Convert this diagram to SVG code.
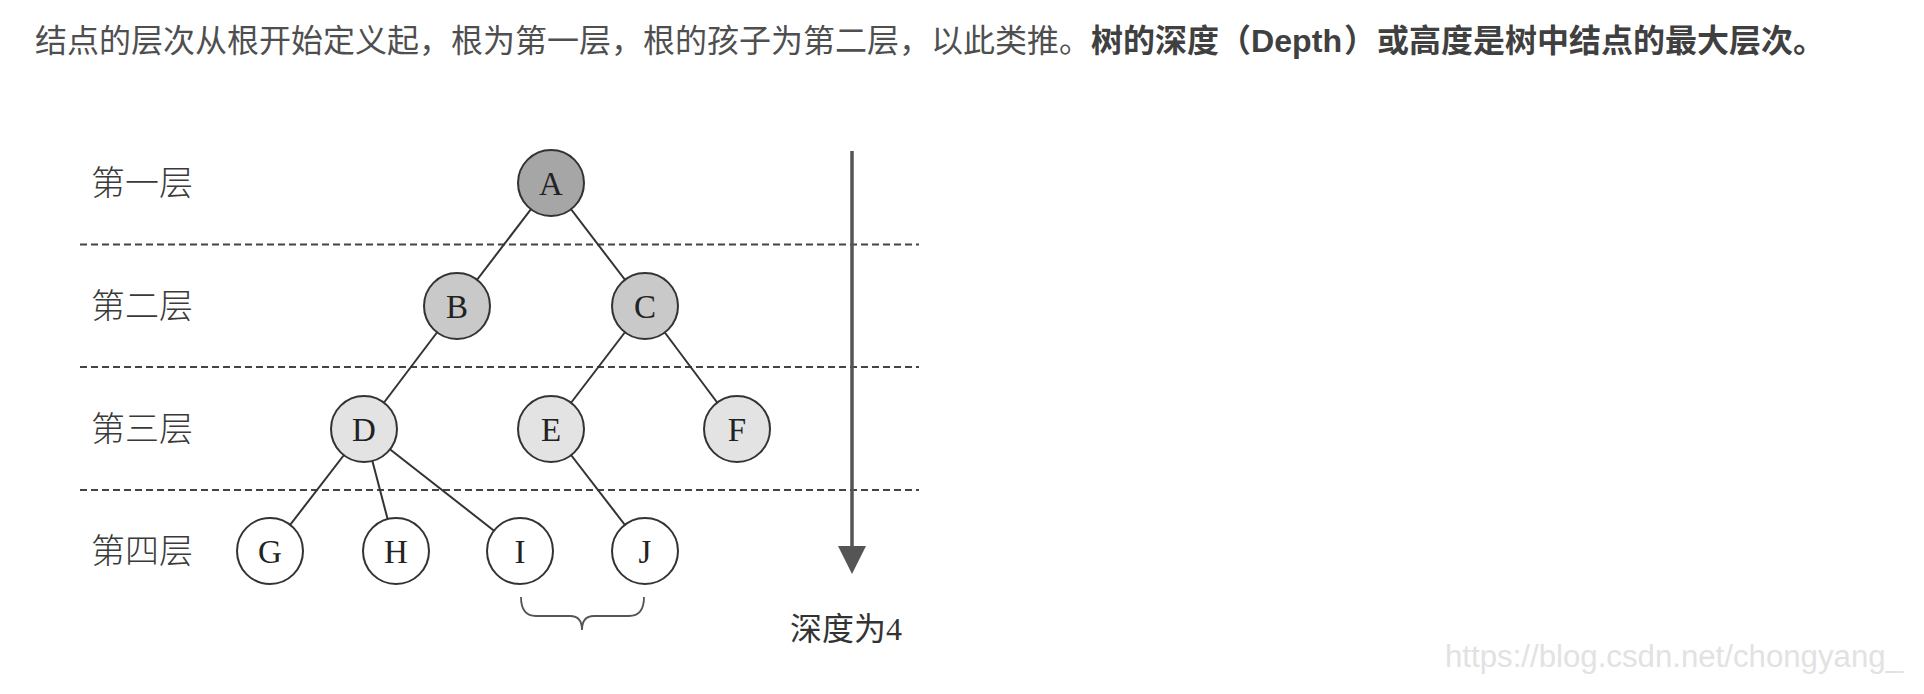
<svg xmlns="http://www.w3.org/2000/svg" width="1924" height="694" viewBox="0 0 1924 694">
<style>
.title{font-family:"Noto Sans CJK SC","Liberation Sans",sans-serif;font-size:32px;fill:#4f4f4f}
.bold{font-weight:bold;fill:#404040}
.lat{font-family:"Liberation Sans",sans-serif}
.lvl{font-family:"Noto Sans CJK SC",sans-serif;font-size:34px;font-weight:300;fill:#3a3a3a}
.node circle{stroke:#333;stroke-width:2}
.node text{font-family:"Liberation Serif",serif;font-size:33px;fill:#222;text-anchor:middle}
.edge{stroke:#333;stroke-width:2;fill:none}
.dash{stroke:#444;stroke-width:1.8;stroke-dasharray:7 4;fill:none}
.c1{fill:#a6a6a6}.c2{fill:#c9c9c9}.c3{fill:#e3e3e3}.c4{fill:#ffffff}
.dep{font-family:"Liberation Serif","Noto Sans CJK SC",serif;font-size:32px;fill:#333}
</style>
<rect width="1924" height="694" fill="#ffffff"/>
<g id="title">
<text class="title" y="52"><tspan x="35">结点的层次从根开始定义起，根为第一层，根的孩子为第二层，以此类推。</tspan><tspan class="bold" x="1091">树的深度</tspan><tspan class="bold" x="1219">（</tspan><tspan class="bold lat" x="1251" textLength="91" lengthAdjust="spacingAndGlyphs">Depth</tspan><tspan class="bold" x="1344">）</tspan><tspan class="bold" x="1377">或高度是树中结点的最大层次。</tspan></text>
</g>
<g id="levels">
<text class="lvl" x="91" y="195">第一层</text>
<text class="lvl" x="91" y="318">第二层</text>
<text class="lvl" x="91" y="441">第三层</text>
<text class="lvl" x="91" y="563">第四层</text>
</g>
<g id="dividers">
<line class="dash" x1="80" y1="244.5" x2="919" y2="244.5"/>
<line class="dash" x1="80" y1="367" x2="919" y2="367"/>
<line class="dash" x1="80" y1="490" x2="919" y2="490"/>
</g>
<g id="connectors">
<line class="edge" x1="551" y1="183" x2="457" y2="306"/>
<line class="edge" x1="551" y1="183" x2="645" y2="306"/>
<line class="edge" x1="457" y1="306" x2="364" y2="429"/>
<line class="edge" x1="645" y1="306" x2="551" y2="429"/>
<line class="edge" x1="645" y1="306" x2="737" y2="429"/>
<line class="edge" x1="364" y1="429" x2="270" y2="551"/>
<line class="edge" x1="364" y1="429" x2="396" y2="551"/>
<line class="edge" x1="364" y1="429" x2="520" y2="551"/>
<line class="edge" x1="551" y1="429" x2="645" y2="551"/>
</g>
<g id="node-A" class="node"><circle class="c1" cx="551" cy="183" r="33"/><text x="551" y="195">A</text></g>
<g id="node-B" class="node"><circle class="c2" cx="457" cy="306" r="33"/><text x="457" y="318">B</text></g>
<g id="node-C" class="node"><circle class="c2" cx="645" cy="306" r="33"/><text x="645" y="318">C</text></g>
<g id="node-D" class="node"><circle class="c3" cx="364" cy="429" r="33"/><text x="364" y="441">D</text></g>
<g id="node-E" class="node"><circle class="c3" cx="551" cy="429" r="33"/><text x="551" y="441">E</text></g>
<g id="node-F" class="node"><circle class="c3" cx="737" cy="429" r="33"/><text x="737" y="441">F</text></g>
<g id="node-G" class="node"><circle class="c4" cx="270" cy="551" r="33"/><text x="270" y="563">G</text></g>
<g id="node-H" class="node"><circle class="c4" cx="396" cy="551" r="33"/><text x="396" y="563">H</text></g>
<g id="node-I" class="node"><circle class="c4" cx="520" cy="551" r="33"/><text x="520" y="563">I</text></g>
<g id="node-J" class="node"><circle class="c4" cx="645" cy="551" r="33"/><text x="645" y="563">J</text></g>
<g id="brace">
<path d="M521,597 Q521,616 536,616 L570,616 Q582,616 582,630 Q582,616 594,616 L629,616 Q644,616 644,597" fill="none" stroke="#555" stroke-width="1.8"/>
</g>
<g id="depth-arrow">
<line x1="852" y1="151" x2="852" y2="550" stroke="#555" stroke-width="3.5"/>
<polygon points="838,546 866,546 852,574" fill="#555"/>
<text class="dep" x="790" y="640">深度为4</text>
</g>
<text x="1445" y="667" font-family="Liberation Sans, sans-serif" font-size="31" fill="#e2e2e2" textLength="458" lengthAdjust="spacingAndGlyphs">https://blog.csdn.net/chongyang_</text>
</svg>
